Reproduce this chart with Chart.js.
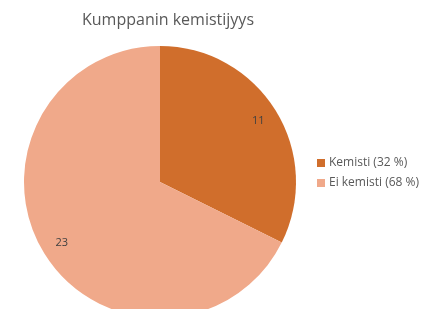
<!DOCTYPE html>
<html><head><meta charset="utf-8">
<script src="https://cdn.jsdelivr.net/npm/chart.js@4"></script>
<style>
html,body{margin:0;padding:0;background:#fff;overflow:hidden;width:445px;height:309px;}
#wrap{position:relative;width:445px;height:330px;}
</style></head>
<body><div id="wrap"><canvas id="c" width="445" height="330"></canvas></div>
<script>
const title = "Kumppanin kemistijyys";
const categories = ["Kemisti", "Ei kemisti"];
const values = [11, 23];
const colors = ["#D06E2C", "#F0A98A"];

const total = values.reduce((a,b)=>a+b,0);
const FONT = "'Open Sans', 'Noto Sans', sans-serif";

const overlay = {
  id: 'overlay',
  afterDatasetsDraw(chart) {
    const ctx = chart.ctx;
    const meta = chart.getDatasetMeta(0);
    ctx.save();
    // data labels
    ctx.font = "11px " + FONT;
    ctx.fillStyle = "#404040";
    ctx.textAlign = "center";
    ctx.textBaseline = "middle";
    meta.data.forEach((arc, i) => {
      const p = arc.getProps(['x','y','startAngle','endAngle','outerRadius'], true);
      const mid = (p.startAngle + p.endAngle) / 2;
      const r = p.outerRadius * 0.85;
      ctx.fillText(String(values[i]), p.x + Math.cos(mid) * r, p.y + Math.sin(mid) * r);
    });
    // title
    const c = meta.data[0];
    ctx.font = "16px " + FONT;
    ctx.fillStyle = "#595959";
    ctx.fillText(title, c.x + 8, 20);
    // legend
    ctx.font = "12px " + FONT;
    ctx.textAlign = "left";
    categories.forEach((name, i) => {
      const y = 163 + i * 20;
      ctx.fillStyle = colors[i];
      ctx.fillRect(317, y - 4, 8, 8);
      ctx.fillStyle = "#595959";
      const pct = Math.round(values[i] / total * 100);
      ctx.fillText(name + " (" + pct + " %)", 329, y);
    });
    ctx.restore();
  }
};

new Chart(document.getElementById('c'), {
  type: 'pie',
  data: {
    labels: categories,
    datasets: [{ data: values, backgroundColor: colors, borderWidth: 0 }]
  },
  options: {
    responsive: false,
    animation: false,
    layout: { padding: { left: 24, top: 46, right: 149, bottom: 12 } },
    plugins: { legend: { display: false }, title: { display: false }, tooltip: { enabled: false } }
  },
  plugins: [overlay]
});
</script></body></html>
